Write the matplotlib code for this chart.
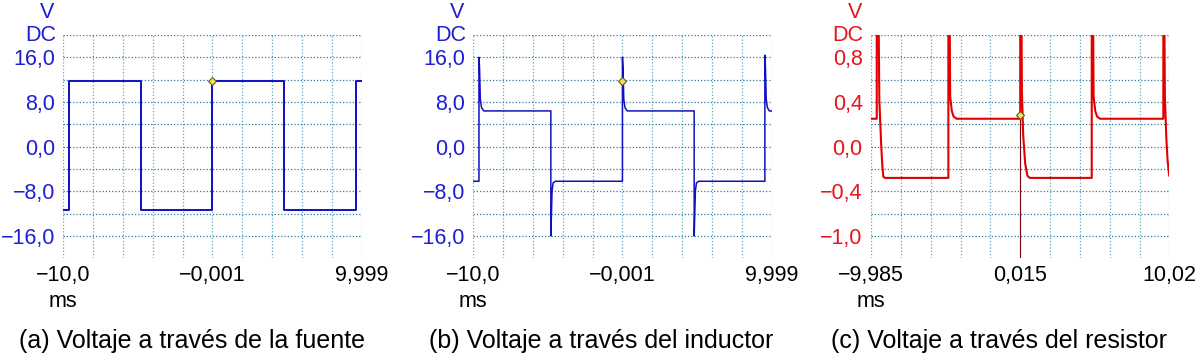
import matplotlib
matplotlib.use('Agg')
import matplotlib.pyplot as plt

plt.rcParams['font.family'] = ['Liberation Sans', 'DejaVu Sans']

# (a) voltaje en la fuente: puntos (ms, V)
t_fuente = [-10.0, -9.62, -9.62, -4.79, -4.79, 0.0, 0.0, 4.78, 4.78, 9.62, 9.62, 10.0]
v_fuente = [-11.4, -11.4, 11.8, 11.8, -11.4, -11.4, 11.8, 11.8, -11.4, -11.4, 11.8, 11.8]

# (b) voltaje en el inductor
t_ind = [-10.0, -9.62, -9.62, -9.58, -9.53, -9.45, -9.30,
         -4.80, -4.80, -4.72, -4.65, -4.50,
         0.0, 0.0, 0.04, 0.09, 0.17, 0.32,
         4.81, 4.81, 4.89, 4.96, 5.11,
         9.55, 9.55, 9.59, 9.64, 9.72, 9.85, 10.0]
v_ind = [-6.2, -6.2, 16.0, 14.0, 8.5, 7.0, 6.4,
         6.4, -16.0, -8.0, -6.5, -6.2,
         -6.2, 16.0, 14.0, 8.5, 7.0, 6.4,
         6.4, -16.0, -8.0, -6.5, -6.2,
         -6.2, 16.4, 14.0, 8.5, 7.0, 6.4, 6.4]

# (c) voltaje en el resistor (los picos se salen de la escala)
t_res = [-9.985, -9.603, -9.603, -9.49, -9.43, -9.31, -9.24, -9.16, -9.05,
         -4.80, -4.80, -4.72, -4.68, -4.57, -4.45, -4.25,
         0.02, 0.02, 0.10, 0.13, 0.22, 0.35, 0.50, 0.65,
         4.815, 4.815, 4.90, 4.94, 5.05, 5.17, 5.37,
         9.617, 9.617, 9.68, 9.72, 9.82, 9.90, 10.00, 10.02]
v_res = [0.25, 0.25, 1.3, 1.3, 0.42, 0.03, -0.15, -0.27, -0.28,
         -0.28, 1.3, 1.3, 0.45, 0.32, 0.27, 0.25,
         0.25, 1.3, 1.3, 0.5, 0.1, -0.15, -0.26, -0.28,
         -0.28, 1.3, 1.3, 0.45, 0.32, 0.27, 0.25,
         0.25, 1.3, 1.3, 0.45, 0.07, -0.12, -0.25, -0.26]

# cursores
cursor_a = (0.0, 11.8)
cursor_b = (0.0, 11.8)
cursor_c = (0.017, 0.28)

xlims = [(-10.0, 10.0), (-10.0, 10.0), (-9.985, 10.02)]
xlabels = [['\u221210,0', '\u22120,001', '9,999'],
           ['\u221210,0', '\u22120,001', '9,999'],
           ['\u22129,985', '0,015', '10,02']]
ylims = [(-20, 20), (-20, 20), (-1.0, 1.0)]
ylabels = [['16,0', '8,0', '0,0', '\u22128,0', '\u221216,0'],
           ['16,0', '8,0', '0,0', '\u22128,0', '\u221216,0'],
           ['0,8', '0,4', '0,0', '\u22120,4', '\u22121,0']]
captions = ['(a) Voltaje a trav\u00e9s de la fuente',
            '(b) Voltaje a trav\u00e9s del inductor',
            '(c) Voltaje a trav\u00e9s del resistor']

blue_txt = '#1f1fd2'
blue_line = '#1010c0'
red_txt = '#e8141c'
red_line = '#e00000'

fig = plt.figure(figsize=(11.97, 3.58), dpi=100)
lefts = [0.0529, 0.3954, 0.7277]
axes = [fig.add_axes([l, 0.2785, 0.2492, 0.6237]) for l in lefts]

series = [(t_fuente, v_fuente, blue_line, blue_txt, cursor_a, 1.4),
          (t_ind, v_ind, blue_line, blue_txt, cursor_b, 1.1),
          (t_res, v_res, red_line, red_txt, cursor_c, 1.5)]

fs = 15.5
for i, ax in enumerate(axes):
    t, v, lc, tc, cur, lw = series[i]
    x0, x1 = xlims[i]
    y0, y1 = ylims[i]
    ax.set_xlim(x0, x1)
    ax.set_ylim(y0, y1)
    for s in ax.spines.values():
        s.set_visible(False)
    # rejilla 10 x 10
    for k in range(11):
        xg = x0 + (x1 - x0) * k / 10
        ax.axvline(xg, color='#5aaac4', lw=0.9, ls=(0, (1, 1.6)), zorder=0)
    for k in range(1, 11):
        yg = y0 + (y1 - y0) * k / 10
        ax.axhline(yg, color='#2f7c98', lw=0.9, ls=(0, (1, 1.6)), zorder=0)
    ax.plot(t, v, color=lc, lw=lw, zorder=3, clip_on=True)
    if i == 2:
        ax.plot([cur[0], cur[0]], [y0, cur[1]], color='#7a0808', lw=0.8, zorder=2)
    ax.plot(cur[0], cur[1], marker='D', ms=4.5, mfc='#f2e060', mec='#6a5a10', mew=0.8, zorder=4)

    ax.set_xticks([x0, (x0 + x1) / 2, x1])
    ax.set_xticklabels(xlabels[i])
    ax.set_yticks([y0 + (y1 - y0) * k / 10 for k in (9, 7, 5, 3, 1)])
    ax.set_yticklabels(ylabels[i])
    ax.tick_params(axis='both', length=0, labelsize=fs)
    ax.tick_params(axis='x', pad=5, labelcolor='black')
    ax.tick_params(axis='y', pad=6, labelcolor=tc)
    ax.text(-0.025, 1.0, 'DC', transform=ax.transAxes, ha='right', va='center',
            fontsize=fs, color=tc)
    ax.text(-0.03, 1.1, 'V', transform=ax.transAxes, ha='right', va='center',
            fontsize=fs, color=tc)
    ax.text(0.0, -0.195, 'ms', transform=ax.transAxes, ha='center', va='center',
            fontsize=fs, color='black')
    ax.text(0.43, -0.37, captions[i], transform=ax.transAxes, ha='center', va='center',
            fontsize=18, color='black')

fig.savefig('out.png', dpi=100)
